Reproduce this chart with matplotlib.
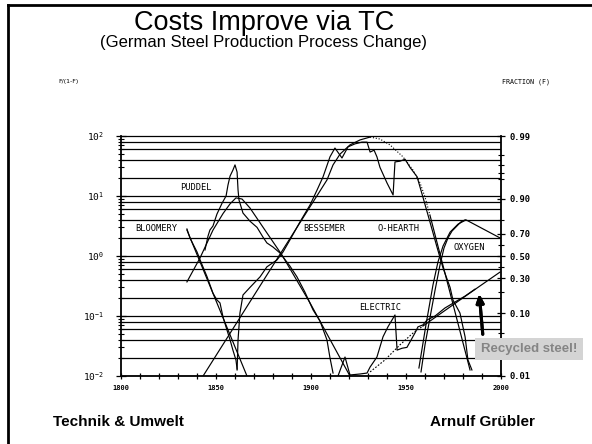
"""Slide: Costs Improve via TC -- German steel production process change.

Substitution curves on a logit scale, F/(1-F), with the matching
market fraction F on the right hand axis.  Values are read off the scan.
"""

import matplotlib

matplotlib.use("Agg")
import matplotlib.pyplot as plt
from matplotlib.patches import Rectangle
from matplotlib.lines import Line2D

# --- data: (year, F/(1-F)) -------------------------------------------------
bloomery_fit_years = [1834.7, 1866.3]
bloomery_fit_vals = [2.71, 0.01]

bloomery_years = [1834.7, 1836.3, 1837.9, 1840.0, 1842.1, 1845.3, 1848.4, 1850.5,
                  1852.1, 1853.7, 1855.8, 1857.4, 1858.9, 1860.5, 1861.1]
bloomery_vals = [2.82, 2.0, 1.58, 1.17, 0.79, 0.45, 0.24, 0.185,
                 0.165, 0.096, 0.058, 0.040, 0.027, 0.0185, 0.0131]

puddel_fit_years = [1834.7, 1841.6, 1848.4, 1853.7, 1857.4, 1860.5, 1863.7,
                    1867.9, 1874.2, 1884.7, 1899.5, 1920.5]
puddel_fit_vals = [0.37, 0.93, 2.7, 5.1, 7.4, 9.3, 8.9, 6.3, 3.2, 1.04, 0.165, 0.01]

puddel_years = [1844.2, 1845.8, 1846.8, 1848.4, 1850.5, 1853.2, 1855.3, 1856.3,
                1857.4, 1858.9, 1860.0, 1861.1, 1861.6, 1862.1, 1864.2, 1867.9,
                1871.6, 1874.7, 1876.8, 1880.0, 1883.7, 1888.9, 1892.6, 1896.8,
                1901.1, 1904.7, 1908.4, 1910.0, 1911.6]
puddel_vals = [1.26, 2.15, 2.71, 3.16, 5.0, 7.6, 10, 15.2,
               21.5, 27, 33, 25, 12.6, 8.6, 5.2, 3.8,
               3.0, 2.07, 1.65, 1.41, 1.12, 0.68, 0.45, 0.25,
               0.126, 0.083, 0.040, 0.020, 0.0112]

# Bessemer / open hearth envelope: fitted rise, dotted saturation, fitted decline
steel_rise_years = [1843.2, 1908.4, 1911.6, 1915.3, 1920.5, 1925.8, 1931.1]
steel_rise_vals = [0.01, 18.5, 33, 50, 71, 86, 96]
steel_sat_years = [1931.1, 1936.3, 1941.6, 1948.4, 1953.7, 1957.4, 1960.0, 1962.6]
steel_sat_vals = [96, 89, 71, 45, 27, 16.5, 9.6, 4.8]
hearth_fit_years = [1962.6, 1983.7]
hearth_fit_vals = [4.8, 0.0126]

steel_years = [1861.1, 1861.6, 1862.6, 1864.2, 1867.9, 1873.2, 1876.8, 1882.1,
               1885.3, 1888.9, 1894.2, 1899.5, 1903.2, 1906.3, 1910.0, 1912.6,
               1916.3, 1919.5, 1923.2, 1926.8, 1929.5, 1931.1, 1933.2, 1934.7,
               1936.3, 1940.0, 1943.2, 1944.2, 1946.8, 1949.5, 1952.1, 1955.8,
               1958.9, 1962.6, 1966.3, 1969.5, 1973.2, 1974.7, 1978.4, 1981.1,
               1982.6, 1984.7]
steel_vals = [0.0126, 0.040, 0.112, 0.224, 0.30, 0.45, 0.66, 0.86,
              1.17, 1.85, 3.7, 7.1, 12.6, 20.7, 45, 63,
              43, 66, 74, 79, 79, 54, 58, 45,
              30, 16.5, 10.4, 37, 38, 41, 30, 21,
              9.6, 3.7, 1.41, 0.63, 0.30, 0.185, 0.112, 0.045,
              0.0185, 0.0126]

oxygen_fit_years = [1956.8, 1960.5, 1964.2, 1966.8, 1969.5, 1973.2, 1977.4, 1981.6, 1999.5]
oxygen_fit_vals = [0.0136, 0.071, 0.33, 0.79, 1.47, 2.5, 3.4, 4.0, 2.0]

oxygen_years = [1957.9, 1960.0, 1962.6, 1965.3, 1967.9, 1970.0, 1972.1, 1974.2,
                1976.8, 1978.9, 1981.1]
oxygen_vals = [0.0117, 0.033, 0.093, 0.27, 0.71, 1.36, 2.0, 2.6,
               3.16, 3.7, 4.0]

electric_fit_dot_years = [1931.1, 1938.9, 1946.8, 1953.7, 1958.9]
electric_fit_dot_vals = [0.0117, 0.0185, 0.033, 0.052, 0.068]
electric_fit_years = [1958.9, 1967.9, 1978.4, 1988.9, 1999.5]
electric_fit_vals = [0.068, 0.108, 0.185, 0.316, 0.54]

electric_years = [1914.2, 1917.9, 1920.5, 1925.8, 1929.5, 1931.1, 1934.7, 1937.9,
                  1940.5, 1944.2, 1945.3, 1947.9, 1950.5, 1952.1, 1954.7, 1956.3,
                  1958.9, 1961.1, 1965.3, 1970.5, 1975.8, 1981.1, 1986.3]
electric_vals = [0.0100, 0.0207, 0.0104, 0.0108, 0.0112, 0.0141, 0.0207, 0.045,
                 0.066, 0.104, 0.027, 0.029, 0.030, 0.037, 0.052, 0.066,
                 0.071, 0.086, 0.10, 0.136, 0.171, 0.215, 0.28]

fraction_labels = [0.99, 0.90, 0.70, 0.50, 0.30, 0.10, 0.01]
fraction_minor = [0.98, 0.97, 0.96, 0.95, 0.8, 0.6, 0.4, 0.2, 0.05, 0.04, 0.03, 0.02]
year_labels = [1800, 1850, 1900, 1950, 2000]

W, H = 592, 444
MONO = "DejaVu Sans Mono"
LINE = dict(color="black", lw=0.85)


def fxy(px, py):
    """Pixel position on the slide -> figure fraction."""
    return px / W, 1 - py / H


def logit(f):
    return f / (1 - f)


def main():
    fig = plt.figure(figsize=(W / 100, H / 100), dpi=100)
    ax = fig.add_axes([121 / W, 1 - 376 / H, 380 / W, 240 / H])
    ax.set_yscale("log")
    ax.set_xlim(1800, 2000)
    ax.set_ylim(0.01, 100)

    # horizontal rulings of the original graph paper
    for e in range(-2, 2):
        for k in (1, 2, 4, 6, 8):
            ax.axhline(k * 10 ** e, color="black", lw=0.9, zorder=1)

    ax.plot(bloomery_fit_years, bloomery_fit_vals, **LINE)
    ax.plot(bloomery_years, bloomery_vals, **LINE)
    ax.plot(puddel_fit_years, puddel_fit_vals, **LINE)
    ax.plot(puddel_years, puddel_vals, **LINE)
    ax.plot(steel_rise_years, steel_rise_vals, **LINE)
    ax.plot(steel_sat_years, steel_sat_vals, color="black", lw=0.8, ls=(0, (1, 1.6)))
    ax.plot(hearth_fit_years, hearth_fit_vals, **LINE)
    ax.plot(steel_years, steel_vals, **LINE)
    ax.plot(oxygen_fit_years, oxygen_fit_vals, **LINE)
    ax.plot(oxygen_years, oxygen_vals, **LINE)
    ax.plot(electric_fit_dot_years, electric_fit_dot_vals, color="black", lw=0.8,
            ls=(0, (1.5, 1.5)))
    ax.plot(electric_fit_years, electric_fit_vals, **LINE)
    ax.plot(electric_years, electric_vals, **LINE)

    # axes cosmetics
    for side in ("left", "bottom", "right"):
        ax.spines[side].set_linewidth(1.3)
    ax.spines["top"].set_linewidth(0.9)

    ax.set_xticks(year_labels)
    ax.set_xticks(range(1800, 2001, 10), minor=True)
    ax.set_xticklabels([str(y) for y in year_labels], family=MONO, fontsize=5,
                       weight="bold")
    ax.tick_params(axis="x", which="both", direction="inout", length=5, width=0.9, pad=4)

    ax.set_yticks([0.01, 0.1, 1, 10, 100])
    ax.set_yticklabels([r"$\mathtt{10}^{\mathtt{-2}}$", r"$\mathtt{10}^{\mathtt{-1}}$",
                        r"$\mathtt{10}^{\mathtt{0}}$", r"$\mathtt{10}^{\mathtt{1}}$",
                        r"$\mathtt{10}^{\mathtt{2}}$"], fontsize=6.8)
    ax.tick_params(axis="y", which="major", direction="inout", length=7, width=0.9, pad=9)
    ax.tick_params(axis="y", which="minor", direction="inout", length=4, width=0.8)

    ax2 = ax.twinx()
    ax2.set_yscale("log")
    ax2.set_ylim(ax.get_ylim())
    ax2.set_yticks([logit(f) for f in fraction_labels])
    ax2.set_yticklabels([f"{f:.2f}" for f in fraction_labels], family=MONO, fontsize=6.3,
                        weight="bold")
    ax2.set_yticks([logit(f) for f in fraction_minor], minor=True)
    ax2.set_yticklabels([], minor=True)
    ax2.tick_params(axis="y", which="major", direction="inout", length=6, width=0.9, pad=3)
    ax2.tick_params(axis="y", which="minor", direction="inout", length=4, width=0.8)
    for s in ax2.spines.values():
        s.set_visible(False)

    # curve labels
    for txt, px, py in [("PUDDEL", 180, 188), ("BLOOMERY", 135, 228),
                        ("BESSEMER", 303, 228), ("O-HEARTH", 377, 228),
                        ("OXYGEN", 453, 248), ("ELECTRIC", 359, 307)]:
        fig.text(*fxy(px, py), txt, family=MONO, fontsize=6.3, va="center", ha="left",
                 bbox=dict(facecolor="white", edgecolor="none", pad=0.6))

    fig.text(*fxy(58, 82), "F/(1-F)", family="DejaVu Sans", fontsize=4.5, va="center")
    fig.text(*fxy(502, 82), "FRACTION (F)", family=MONO, fontsize=4.8, va="center")

    # slide text
    fig.text(*fxy(264, 23), "Costs Improve via TC", family="Liberation Sans",
             fontsize=19.5, ha="center", va="center")
    fig.text(*fxy(264, 42), "(German Steel Production Process Change)",
             family="Liberation Sans", fontsize=12, ha="center", va="center")
    fig.text(*fxy(53, 422), "Technik & Umwelt", family="Liberation Sans",
             fontsize=11, weight="bold", va="center", ha="left")
    fig.text(*fxy(535, 422), "Arnulf Grübler", family="Liberation Sans",
             fontsize=11, weight="bold", va="center", ha="right")

    # recycled steel call-out
    x0, y1 = fxy(475, 360)
    fig.patches.append(Rectangle((x0, y1), 108 / W, 22 / H, transform=fig.transFigure,
                                 facecolor="#d4d4d4", edgecolor="none", zorder=5))
    fig.text(*fxy(529, 349), "Recycled steel!", family="Liberation Sans", fontsize=9.5,
             weight="bold", color="#858585", ha="center", va="center", zorder=6)
    fig.add_artist(plt.annotate("", xy=fxy(479, 291), xytext=fxy(483, 337),
                                xycoords="figure fraction", textcoords="figure fraction",
                                arrowprops=dict(arrowstyle="-|>,head_length=0.5,head_width=0.22",
                                                color="black", lw=2.2)))

    # slide frame (top and left edge)
    fig.add_artist(Line2D([8 / W, 8 / W], [0, 1 - 5 / H], color="black", lw=2,
                          transform=fig.transFigure))
    fig.add_artist(Line2D([8 / W, 1], [1 - 5 / H, 1 - 5 / H], color="black", lw=2,
                          transform=fig.transFigure))

    fig.savefig("out.png", dpi=100)


if __name__ == "__main__":
    main()
